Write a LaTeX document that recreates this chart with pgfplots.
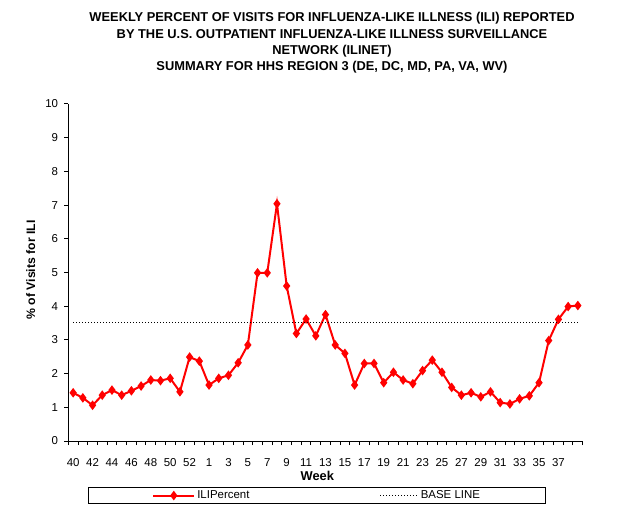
\documentclass[border=0pt]{standalone}
\usepackage{fontspec}
\setmainfont{Liberation Sans}
\usepackage{pgfplots}
\pgfplotsset{compat=1.18}
\pgfplotsset{
  ili legend/.style={legend image code/.code={%
    \draw[mark repeat=2, mark phase=2, ##1] plot coordinates {(0bp,0bp) (20.5bp,0bp) (41bp,0bp)};}},
  base legend/.style={legend image code/.code={%
    \draw[##1] (0bp,0bp) -- (38bp,0bp);}},
}

\begin{document}
\begin{tikzpicture}
\path[use as bounding box] (0bp,0bp) rectangle (634bp,510bp);

% Four-line chart title
\begin{scope}[every node/.style={anchor=base, font=\bfseries\fontsize{12.9}{15}\selectfont, inner sep=0pt}]
\node at (332bp,488.3bp) {WEEKLY PERCENT OF VISITS FOR INFLUENZA-LIKE ILLNESS (ILI) REPORTED};
\node at (332bp,471.7bp) {BY THE U.S. OUTPATIENT INFLUENZA-LIKE ILLNESS SURVEILLANCE};
\node at (332bp,455.7bp) {NETWORK (ILINET)};
\node at (332bp,439bp) {SUMMARY FOR HHS REGION 3 (DE, DC, MD, PA, VA, WV)};
\end{scope}

\begin{axis}[
  at={(68.3bp,69bp)}, anchor=south west,
  scale only axis, width=514.4bp, height=337bp,
  xmin=-0.5, xmax=52.5, ymin=0, ymax=10,
  axis x line*=bottom, axis y line*=left,
  axis line style={line width=1bp, black},
  tick align=outside, major tick length=4bp,
  every tick/.style={black, line width=1bp},
  xtick={-0.5,0.5,...,52.5},
  x tick label as interval,
  xticklabels={40,,42,,44,,46,,48,,50,,52,,1,,3,,5,,7,,9,,11,,13,,15,,17,,19,,21,,23,,25,,27,,29,,31,,33,,35,,37,,},
  ytick={0,1,...,10},
  /pgf/number format/assume math mode=true,
  tick label style={font=\fontsize{11.5}{13}\selectfont},
  xticklabel style={inner sep=0pt, anchor=base, yshift=-21.5bp},
  yticklabel style={inner sep=0pt, anchor=east, xshift=-6bp},
  xlabel={Week},
  xlabel style={font=\bfseries\fontsize{12.9}{15}\selectfont, anchor=base, inner sep=0pt,
    at={(axis description cs:0.4841,-0.1178)}},
  ylabel={\% of Visits for ILI},
  ylabel style={font=\bfseries\fontsize{12.3}{14}\selectfont, anchor=base, inner sep=0pt,
    at={(axis description cs:-0.0647,0.5075)}},
  legend columns=2,
  legend style={at={(axis description cs:0.0389,-0.1374)}, anchor=north west,
    draw=black, line width=1bp, inner xsep=63.5bp, inner ysep=1bp,
    font=\fontsize{11.5}{13}\selectfont,
    /tikz/every even column/.append style={column sep=128.5bp}},
  legend cell align=left,
]
% Weekly ILI percentage, weeks 40-53 then 1-39
\addplot[red, line width=2bp, mark=diamond*, mark size=3.2bp, mark options={solid, fill=red}, ili legend]
coordinates {
(0,1.43) (1,1.28) (2,1.06) (3,1.36) (4,1.51) (5,1.36) (6,1.49) (7,1.63)
(8,1.81) (9,1.79) (10,1.86) (11,1.46) (12,2.49) (13,2.37) (14,1.66) (15,1.86)
(16,1.95) (17,2.32) (18,2.85) (19,4.99) (20,4.99) (21,7.04) (22,4.60) (23,3.19)
(24,3.62) (25,3.12) (26,3.75) (27,2.85) (28,2.60) (29,1.66) (30,2.30) (31,2.30)
(32,1.73) (33,2.04) (34,1.81) (35,1.70) (36,2.09) (37,2.40) (38,2.04) (39,1.59)
(40,1.36) (41,1.43) (42,1.31) (43,1.46) (44,1.14) (45,1.10) (46,1.25) (47,1.34)
(48,1.73) (49,2.98) (50,3.61) (51,3.99) (52,4.02)
};
\addlegendentry{ILIPercent}
% Regional baseline
\addplot[black, line width=0.8bp, dash pattern=on 1bp off 2bp, mark=none, base legend]
coordinates {(0,3.52) (52,3.52)};
\addlegendentry{BASE LINE}
\end{axis}
\end{tikzpicture}
\end{document}
